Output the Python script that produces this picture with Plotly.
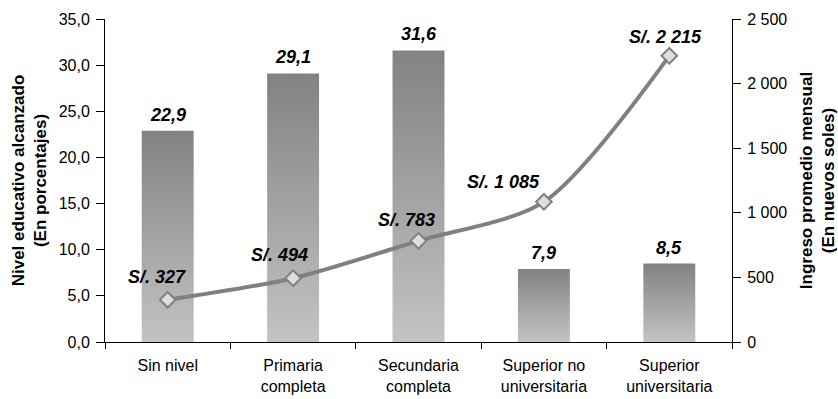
import plotly.graph_objects as go

categories = ["Sin nivel", "Primaria<br>completa", "Secundaria<br>completa",
              "Superior no<br>universitaria", "Superior<br>universitaria"]
pct = [22.9, 29.1, 31.6, 7.9, 8.5]
pct_labels = ["22,9", "29,1", "31,6", "7,9", "8,5"]
income = [327, 494, 783, 1085, 2215]
income_labels = ["S/. 327", "S/. 494", "S/. 783", "S/. 1 085", "S/. 2 215"]
label_shift = [(-11, 23), (-14, 23), (-12, 21), (-40, 20), (-4, 19)]

FONT = "Liberation Sans, Arial, sans-serif"
half = 0.207
xs = list(range(len(categories)))

fig = go.Figure()
for i, v in enumerate(pct):
    fig.add_trace(go.Scatter(
        x=[i - half, i + half, i + half, i - half, i - half],
        y=[0, 0, v, v, 0],
        mode="lines", fill="toself", line=dict(width=0),
        fillgradient=dict(type="vertical",
                          colorscale=[[0, "#c3c3c3"], [1, "#828282"]]),
        showlegend=False, hoverinfo="skip"))

for i, (lab, v) in enumerate(zip(pct_labels, pct)):
    fig.add_annotation(x=i, y=v, xref="x", yref="y", text="<b><i>%s</i></b>" % lab,
                       showarrow=False, yanchor="bottom", yshift=4,
                       font=dict(family=FONT, size=18, color="black"))

fig.add_trace(go.Scatter(
    x=xs, y=income, yaxis="y2", mode="lines+markers",
    line=dict(color="#808080", width=4, shape="spline", smoothing=0.8),
    marker=dict(symbol="diamond", size=12, color="#dedede",
                line=dict(color="#808080", width=2)),
    showlegend=False))

for i, (lab, v) in enumerate(zip(income_labels, income)):
    dx, dy = label_shift[i]
    fig.add_annotation(x=i, y=v, xref="x", yref="y2", text="<b><i>%s</i></b>" % lab,
                       showarrow=False, xshift=dx, yshift=dy,
                       font=dict(family=FONT, size=18, color="black"))

fig.update_layout(
    width=838, height=399,
    margin=dict(l=105, r=106, t=19, b=57, autoexpand=False),
    paper_bgcolor="white", plot_bgcolor="white",
    separators=", ",
    font=dict(family=FONT, size=16, color="black"),
    xaxis=dict(range=[-0.5, 4.5], tickmode="array", tickvals=xs, ticktext=categories,
               ticks="", showline=True, linecolor="black", linewidth=1,
               showgrid=False, zeroline=False, ticklabelstandoff=9, automargin=False,
               minor=dict(ticks="outside", tickmode="array",
                          tickvals=[-0.5, 0.5, 1.5, 2.5, 3.5, 4.5],
                          ticklen=6, tickcolor="black", showgrid=False),
               tickfont=dict(size=16)),
    yaxis=dict(range=[0, 35], dtick=5, tickformat=".1f", showline=True,
               linecolor="black", ticks="outside", ticklen=8, tickcolor="black",
               ticklabelstandoff=3, automargin=False,
               showgrid=False, zeroline=False, tickfont=dict(size=16),
               title=dict(text="<b>Nivel educativo alcanzado</b><br><b>(En porcentajes)</b>",
                          font=dict(size=17), standoff=7)),
    yaxis2=dict(range=[0, 2500], dtick=500, tickformat=",d", overlaying="y",
                side="right", showline=True, linecolor="black", ticks="outside",
                ticklen=8, tickcolor="black", ticklabelstandoff=3, automargin=False,
                showgrid=False, zeroline=False, tickfont=dict(size=16),
                title=dict(text="<b>Ingreso promedio mensual</b><br><b>(En nuevos soles)</b>",
                           font=dict(size=17), standoff=13)),
)

fig.write_html("out.html")
